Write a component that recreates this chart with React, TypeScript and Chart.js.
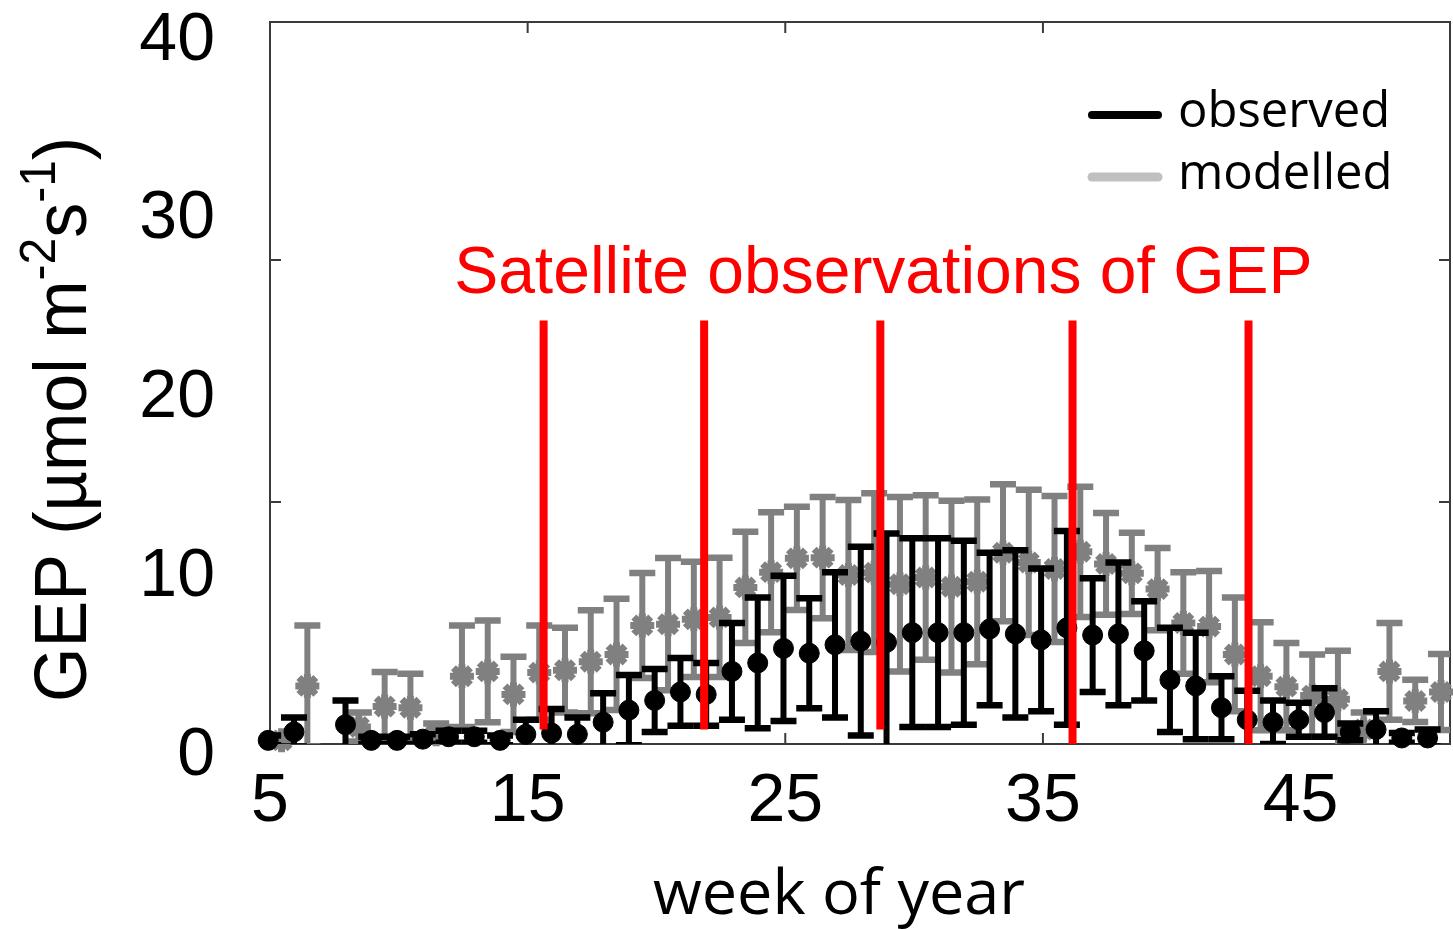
import React, { useEffect, useRef } from 'react';
import { Chart, registerables } from 'chart.js';

Chart.register(...registerables);

// ---------------- data ----------------
const weeks = [5, 6, 7, 8, 9, 10, 11, 12, 13, 14, 15, 16, 17, 18, 19, 20, 21, 22, 23, 24, 25, 26, 27, 28, 29, 30, 31, 32, 33, 34, 35, 36, 37, 38, 39, 40, 41, 42, 43, 44, 45, 46, 47, 48, 49, 50];

const observedMean = [0.15, 0.5, null, 0.8, 0.15, 0.15, 0.2, 0.3, 0.3, 0.15, 0.4, 0.45, 0.4, 0.9, 1.4, 1.8, 2.15, 2.05, 3.0, 3.35, 3.95, 3.75, 4.1, 4.25, 4.2, 4.6, 4.6, 4.6, 4.75, 4.55, 4.3, 4.8, 4.5, 4.55, 3.85, 2.65, 2.4, 1.5, 1.0, 0.9, 1.0, 1.3, 0.5, 0.6, 0.25, 0.25];
const observedSd = [0.2, 0.6, null, 1.0, 0.15, 0.15, 0.2, 0.25, 0.25, 0.2, 0.6, 1.0, 0.7, 1.2, 1.45, 1.3, 1.4, 1.3, 2.0, 2.7, 3.0, 2.27, 3.0, 3.9, 4.5, 3.9, 3.9, 3.8, 3.15, 3.45, 2.95, 4.0, 2.35, 2.95, 2.05, 2.15, 2.2, 1.3, 1.2, 0.9, 0.7, 1.0, 0.35, 0.75, 0.2, 0.35];

const modelledMean = [0.15, 2.4, null, 0.7, 1.55, 1.5, 0.4, 2.8, 3.0, 2.05, 2.95, 3.05, 3.4, 3.7, 4.9, 4.95, 5.15, 5.23, 6.47, 7.1, 7.67, 7.7, 6.98, 7.08, 6.6, 6.88, 6.5, 6.7, 7.9, 7.5, 7.23, 7.94, 7.44, 7.05, 6.4, 5.0, 4.85, 3.7, 2.8, 2.37, 2.0, 1.85, 0.6, 3.0, 1.78, 2.15];
const modelledSd = [0.15, 2.5, null, 0.6, 1.42, 1.4, 0.45, 2.1, 2.1, 1.55, 1.95, 1.75, 2.13, 2.3, 2.17, 2.73, 2.38, 2.46, 2.3, 2.48, 2.13, 2.5, 3.1, 3.28, 3.6, 3.4, 3.55, 3.4, 2.83, 3.0, 3.02, 2.69, 2.1, 1.68, 1.7, 2.1, 2.3, 2.35, 2.23, 1.8, 1.7, 2.0, 0.7, 2.0, 0.87, 1.57];

const xTickValues = [5, 15, 25, 35, 45];
const frameTickWeeks = [15, 25, 35];
const frameTickGep = [10, 20];
const yTickLabels = [0, 10, 20, 30, 40];

const satelliteWeeks = [15.62, 21.85, 28.69, 36.15, 42.98];
const satelliteTop = 17.5;
const satelliteBottoms = [0.6, 0.6, 0.6, 0, 0];
const satelliteText = 'Satellite observations of GEP';

const yTitleParts = [
  { text: 'GEP (\u00b5mol m', sup: false },
  { text: '-2', sup: true },
  { text: 's', sup: false },
  { text: '-1', sup: true },
  { text: ')', sup: false },
];
const xTitle = 'week of year';

// ---------------- styles ----------------
const ARIAL = "'Liberation Sans', Arial, sans-serif";
const CALIBRI = "'Open Sans', 'Noto Sans', sans-serif";
const OBS_COLOR = '#000000';
const MOD_COLOR = '#808080';
const LEGEND_MOD_COLOR = '#c0c0c0';
const RED = '#ff0000';
const FRAME = '#3a3a3a';

const errorBarPlugin = {
  id: 'errorBars',
  beforeDatasetDraw(chart: any, args: any) {
    const ds: any = chart.data.datasets[args.index];
    const errs = ds.errors;
    if (!errs) return;
    const ys = chart.scales.y;
    const a = chart.chartArea;
    const ctx = chart.ctx;
    ctx.save();
    ctx.beginPath();
    ctx.rect(a.left, a.top, a.right - a.left, a.bottom - a.top);
    ctx.clip();
    ctx.strokeStyle = ds.errorColor;
    ctx.lineCap = 'butt';
    args.meta.data.forEach((pt: any, i: number) => {
      const raw = ds.data[i];
      if (raw.y == null || errs[i] == null) return;
      const hi = ys.getPixelForValue(raw.y + errs[i]);
      const lo = ys.getPixelForValue(raw.y - errs[i]);
      const px = pt.x;
      ctx.lineWidth = 6;
      ctx.beginPath();
      ctx.moveTo(px, hi);
      ctx.lineTo(px, lo);
      ctx.stroke();
      ctx.lineWidth = 6.5;
      ctx.beginPath();
      ctx.moveTo(px - 13, hi);
      ctx.lineTo(px + 13, hi);
      ctx.moveTo(px - 13, lo);
      ctx.lineTo(px + 13, lo);
      ctx.stroke();
    });
    ctx.restore();
  },
};

const framePlugin = {
  id: 'frame',
  beforeDatasetsDraw(chart: any) {
    const { ctx, chartArea: a, scales } = chart;
    ctx.save();
    ctx.strokeStyle = FRAME;
    ctx.lineWidth = 2;
    ctx.strokeRect(a.left, a.top, a.right - a.left, a.bottom - a.top);
    ctx.beginPath();
    frameTickWeeks.forEach((v) => {
      const px = scales.x.getPixelForValue(v);
      ctx.moveTo(px, a.bottom);
      ctx.lineTo(px, a.bottom - 11);
      ctx.moveTo(px, a.top);
      ctx.lineTo(px, a.top + 11);
    });
    frameTickGep.forEach((v) => {
      const py = scales.y.getPixelForValue(v);
      ctx.moveTo(a.left, py);
      ctx.lineTo(a.left + 11, py);
      ctx.moveTo(a.right, py);
      ctx.lineTo(a.right - 11, py);
    });
    ctx.stroke();
    ctx.restore();
  },
};

const annotationPlugin = {
  id: 'satellite',
  afterDatasetsDraw(chart: any) {
    const { ctx, scales } = chart;
    ctx.save();
    ctx.strokeStyle = RED;
    ctx.lineWidth = 8;
    const top = scales.y.getPixelForValue(satelliteTop);
    satelliteWeeks.forEach((w, i) => {
      const px = scales.x.getPixelForValue(w);
      ctx.beginPath();
      ctx.moveTo(px, top);
      ctx.lineTo(px, scales.y.getPixelForValue(satelliteBottoms[i]));
      ctx.stroke();
    });
    ctx.fillStyle = RED;
    ctx.font = `66px ${ARIAL}`;
    ctx.textAlign = 'center';
    ctx.textBaseline = 'alphabetic';
    ctx.fillText(satelliteText, scales.x.getPixelForValue(satelliteWeeks[2]) + 3, top - 27);
    ctx.restore();
  },
};

const legendPlugin = {
  id: 'insideLegend',
  afterDraw(chart: any) {
    const { ctx, chartArea: a } = chart;
    ctx.save();
    chart.data.datasets.forEach((ds: any, i: number) => {
      const yc = a.top + 93 + i * 62;
      ctx.strokeStyle = ds.legendColor;
      ctx.lineWidth = i === 0 ? 8 : 9;
      ctx.lineCap = 'round';
      ctx.beginPath();
      ctx.moveTo(a.right - 358, yc);
      ctx.lineTo(a.right - 292, yc);
      ctx.stroke();
      ctx.fillStyle = '#000';
      ctx.font = `49px ${CALIBRI}`;
      ctx.textAlign = 'left';
      ctx.textBaseline = 'alphabetic';
      ctx.fillText(ds.label, a.right - 272, yc + 12);
    });
    ctx.restore();
  },
};

const titlesPlugin = {
  id: 'axisTitles',
  afterDraw(chart: any) {
    const { ctx, chartArea: a } = chart;
    ctx.save();
    ctx.fillStyle = '#000';
    ctx.translate(86, 702);
    ctx.rotate(-Math.PI / 2);
    ctx.scale(1, 1.05);
    ctx.textBaseline = 'alphabetic';
    ctx.textAlign = 'left';
    let u = 0;
    yTitleParts.forEach((p) => {
      ctx.font = p.sup ? `48px ${ARIAL}` : `70px ${ARIAL}`;
      ctx.fillText(p.text, u, p.sup ? -30 : 0);
      u += ctx.measureText(p.text).width;
    });
    ctx.restore();

    ctx.save();
    ctx.fillStyle = '#000';
    ctx.font = `63px ${CALIBRI}`;
    ctx.textAlign = 'center';
    ctx.textBaseline = 'alphabetic';
    ctx.fillText(xTitle, a.left + 569, 914);
    ctx.restore();
  },
};

export default function App() {
  const ref = useRef<HTMLCanvasElement>(null);

  useEffect(() => {
    const canvas = ref.current;
    if (!canvas) return;
    const chart = new Chart(canvas, {
      type: 'scatter',
      data: {
        datasets: [
          {
            label: 'observed',
            xAxisID: 'x',
            yAxisID: 'y',
            data: weeks.map((w, i) => ({ x: w - 0.07, y: observedMean[i] })),
            errors: observedSd,
            errorColor: OBS_COLOR,
            legendColor: OBS_COLOR,
            pointStyle: 'circle',
            pointRadius: 10,
            backgroundColor: OBS_COLOR,
            borderColor: OBS_COLOR,
            borderWidth: 1,
            clip: false,
          } as any,
          {
            label: 'modelled',
            xAxisID: 'x',
            yAxisID: 'y',
            data: weeks.map((w, i) => ({ x: w + 0.45, y: modelledMean[i] })),
            errors: modelledSd,
            errorColor: MOD_COLOR,
            legendColor: LEGEND_MOD_COLOR,
            pointStyle: 'star',
            pointRadius: 12,
            backgroundColor: MOD_COLOR,
            borderColor: MOD_COLOR,
            borderWidth: 7,
            clip: false,
          } as any,
        ],
      },
      options: {
        responsive: false,
        animation: false,
        events: [],
        layout: { autoPadding: false, padding: { top: 22, right: 3, left: 0, bottom: 0 } },
        plugins: { legend: { display: false }, tooltip: { enabled: false } },
        scales: {
          x: {
            type: 'linear',
            position: 'bottom',
            min: 5,
            max: 50.8,
            afterBuildTicks: (s: any) => {
              s.ticks = xTickValues.map((v) => ({ value: v }));
            },
            afterFit: (s: any) => {
              s.height = 185;
              s.paddingLeft = 0;
              s.paddingRight = 0;
            },
            grid: { display: false, drawTicks: false },
            border: { display: false },
            ticks: {
              padding: 24,
              autoSkip: false,
              maxRotation: 0,
              color: '#000',
              font: { family: ARIAL, size: 68, lineHeight: 1 },
            },
          },
          yL: {
            type: 'linear',
            position: 'left',
            min: 0.671,
            max: 41.06,
            afterBuildTicks: (s: any) => {
              s.ticks = yTickLabels.map((v) => ({ value: v }));
            },
            afterFit: (s: any) => {
              s.width = 270;
              s.paddingTop = 0;
              s.paddingBottom = 0;
            },
            grid: { display: false, drawTicks: false },
            border: { display: false },
            ticks: {
              padding: 55,
              autoSkip: false,
              color: '#000',
              font: { family: ARIAL, size: 68, lineHeight: 1 },
            },
          },
          y: {
            type: 'linear',
            position: 'right',
            display: false,
            min: 0,
            max: 29.83,
          },
        },
      } as any,
      plugins: [framePlugin, errorBarPlugin, annotationPlugin, legendPlugin, titlesPlugin],
    });
    return () => chart.destroy();
  }, []);

  return (
    <div style={{ position: 'fixed', left: 0, top: 0, width: 1453, height: 929, background: '#fff' }}>
      <canvas ref={ref} width={1453} height={929} style={{ display: 'block' }} />
    </div>
  );
}
